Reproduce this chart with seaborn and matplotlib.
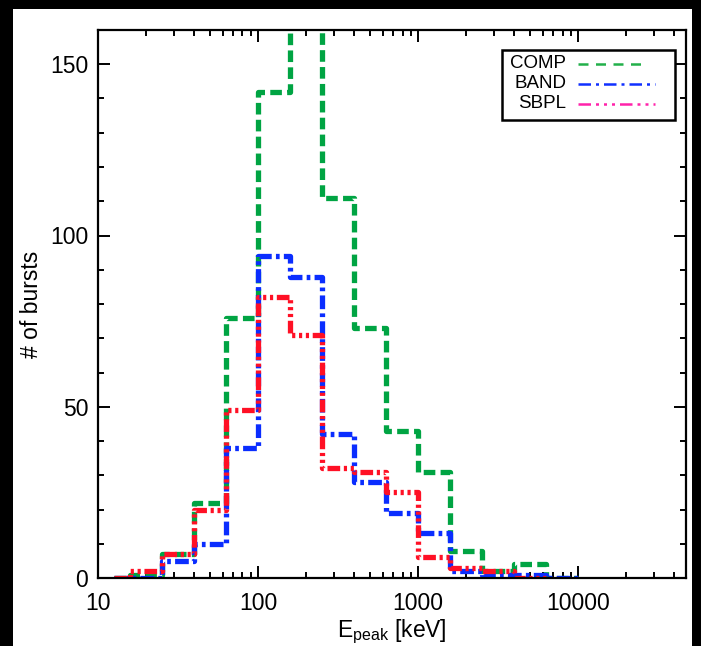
import numpy as np
import pandas as pd
import matplotlib
matplotlib.use("Agg")
import matplotlib.pyplot as plt
from matplotlib.patches import Rectangle
from matplotlib.lines import Line2D
import seaborn as sns

# ---- data ----
edges = [12.6, 15.8, 25.1, 39.8, 63.1, 100, 158, 251, 398, 631, 1000, 1585, 2512, 3981, 6310, 10000]
comp_counts = [0, 1, 7, 22, 76, 142, 175, 111, 73, 43, 31, 8, 2, 4, 0]
band_counts = [0, 0, 5, 10, 38, 94, 88, 42, 28, 19, 13, 2, 1, 1, 0]
sbpl_counts = [0, 2, 7, 20, 49, 82, 71, 32, 31, 25, 6, 3, 2, 0]
models = ["COMP", "BAND", "SBPL"]
xticks = [10, 100, 1000, 10000]
xticklabels = ["10", "100", "1000", "10000"]
yticks = [0, 50, 100, 150]

sns.set_style("white")
plt.rcParams["font.family"] = ["Liberation Sans", "DejaVu Sans"]
plt.rcParams["mathtext.default"] = "regular"
plt.rcParams["text.color"] = "black"
plt.rcParams["axes.labelcolor"] = "black"

fig = plt.figure(figsize=(7.01, 6.46), dpi=100)
fig.patch.set_facecolor("black")
fig.patches.append(Rectangle((13 / 701, 0), (692 - 13) / 701, (646 - 9) / 646,
                             transform=fig.transFigure, facecolor="white",
                             edgecolor="none", zorder=-5))
ax = fig.add_axes([98 / 701, 1 - 578 / 646, (686 - 98) / 701, (578 - 30) / 646])

def frame(counts):
    n = len(counts)
    return pd.DataFrame({"x": edges[:n + 1], "y": list(counts) + [counts[-1]]})

styles = {
    "COMP": dict(color="#00a443", ls=(0, (2.2, 1.0))),
    "BAND": dict(color="#0a2dff", ls=(0, (2.6, 0.8, 0.7, 0.8))),
    "SBPL": dict(color="#ff1025", ls=(0, (2.4, 0.7, 0.6, 0.7, 0.6, 0.7, 0.6, 0.7))),
}
for name, counts in zip(models, [comp_counts, band_counts, sbpl_counts]):
    d = frame(counts)
    sns.lineplot(data=d, x="x", y="y", ax=ax, drawstyle="steps-post",
                 estimator=None, sort=False, color=styles[name]["color"],
                 linestyle=styles[name]["ls"], lw=3.8, legend=False)

ax.set_xscale("log")
ax.set_xlim(10, 47300)
ax.set_ylim(0, 160)
ax.set_xticks(xticks)
ax.set_xticklabels(xticklabels)
ax.set_yticks(yticks)
ax.yaxis.set_minor_locator(matplotlib.ticker.MultipleLocator(10))
ax.xaxis.set_minor_locator(matplotlib.ticker.LogLocator(base=10, subs=np.arange(2, 10)))
ax.xaxis.set_minor_formatter(matplotlib.ticker.NullFormatter())
ax.tick_params(which="both", direction="in", top=True, right=True, bottom=True, left=True,
               colors="black", labelcolor="black", labelsize=16.5, width=1.4)
ax.tick_params(which="major", length=8.5)
ax.tick_params(which="minor", length=4.5)
ax.tick_params(axis="x", pad=10)
ax.tick_params(axis="y", pad=7)
for s in ax.spines.values():
    s.set_linewidth(1.6)
    s.set_color("black")

ax.set_xlabel("E$_{peak}$ [keV]", fontsize=16.5, labelpad=2, color="black")
ax.set_ylabel("# of bursts", fontsize=16.5, labelpad=5, color="black")

# legend box (custom, IDL-style with right-aligned labels)
def fx(px):
    return (px - 98) / (686 - 98)
def fy(py):
    return (578 - py) / (578 - 30)
ax.add_patch(Rectangle((fx(502), fy(120)), fx(675) - fx(502), fy(50) - fy(120),
                       transform=ax.transAxes, facecolor="white", edgecolor="black",
                       lw=1.8, zorder=5))
leg_colors = ["#22b04a", "#1030ff", "#ff22aa"]
leg_ls = [(0, (4, 3)), (0, (5, 2, 1.2, 2)), (0, (5, 2, 1.2, 2, 1.2, 2, 1.2, 2))]
leg_y = [64, 84, 104]
leg_end = [648, 655, 655]
for name, c, ls, y, xe in zip(models, leg_colors, leg_ls, leg_y, leg_end):
    ax.text(fx(566), fy(y), name, transform=ax.transAxes, ha="right", va="center",
            fontsize=13.5, zorder=6, color="black")
    ax.add_line(Line2D([fx(578), fx(xe)], [fy(y), fy(y)], transform=ax.transAxes,
                       color=c, lw=1.8, linestyle=ls, zorder=6))

fig.savefig("out.png", dpi=100, facecolor=fig.get_facecolor())
